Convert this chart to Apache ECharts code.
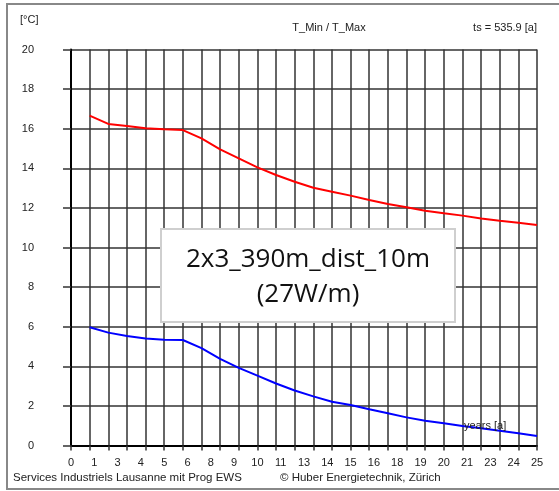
<!DOCTYPE html>
<html>
<head>
<meta charset="utf-8">
<script src="https://cdn.jsdelivr.net/npm/echarts@6/dist/echarts.min.js"></script>
<style>html,body{margin:0;padding:0;background:#fff;}#c{width:559px;height:491px;}</style>
</head>
<body>
<div id="c"></div>
<script>
const years = [1,2,3,4,5,6,7,8,9,10,11,12,13,14,15,16,17,18,19,20,21,22,23,24,25];
const tMax = [16.66,16.24,16.14,16.02,15.97,15.93,15.51,14.96,14.50,14.05,13.66,13.32,13.02,12.82,12.62,12.40,12.20,12.03,11.86,11.73,11.61,11.47,11.35,11.25,11.14];
const tMin = [5.97,5.70,5.53,5.40,5.34,5.33,4.92,4.38,3.92,3.53,3.13,2.78,2.48,2.21,2.05,1.83,1.63,1.42,1.25,1.12,0.98,0.87,0.75,0.62,0.48];
const unitLabel = '[°C]';
const titleText = 'T_Min / T_Max';
const tsText = 'ts = 535.9 [a]';
const xName = 'years [a]';
const footerLeft = 'Services Industriels Lausanne mit Prog EWS';
const footerRight = '© Huber Energietechnik, Zürich';
const boxLines = ['2x3_390m_dist_10m', '(27W/m)'];

const small = '11px "Liberation Sans", Arial, sans-serif';
const footFont = '11.5px "Liberation Sans", Arial, sans-serif';
const gridColor = '#333';

const chart = echarts.init(document.getElementById('c'), null, {renderer: 'canvas'});
chart.setOption({
  animation: false,
  backgroundColor: '#fff',
  grid: {left: 71, right: 22, top: 49.5, bottom: 45.5},
  xAxis: [{
    type: 'value', min: 0, max: 25, interval: 1,
    axisLine: {show: true, onZero: false, lineStyle: {color: '#000', width: 2}},
    axisTick: {show: true, inside: false, length: 5, lineStyle: {color: gridColor, width: 1.5}},
    axisLabel: {show: false},
    splitLine: {show: true, lineStyle: {color: gridColor, width: 1.5}}
  }, {
    type: 'value', min: 0, max: 25, interval: 1.25, position: 'bottom',
    axisLine: {show: false}, axisTick: {show: false}, splitLine: {show: false},
    axisLabel: {show: true, margin: 12, color: '#222', fontSize: 11, fontFamily: '"Liberation Sans", Arial, sans-serif',
      formatter: v => String(Math.round(v))}
  }],
  yAxis: {
    type: 'value', min: 0, max: 20, interval: 2,
    axisLine: {show: true, lineStyle: {color: '#000', width: 2}},
    axisTick: {show: true, inside: false, length: 8, lineStyle: {color: gridColor, width: 1.5}},
    axisLabel: {show: true, margin: 37, color: '#222', fontSize: 11, fontFamily: '"Liberation Sans", Arial, sans-serif'},
    splitLine: {show: true, lineStyle: {color: gridColor, width: 1.5}}
  },
  series: [{
    type: 'line', xAxisIndex: 0, data: years.map((y, i) => [y, tMax[i]]),
    showSymbol: false, lineStyle: {color: '#ff0000', width: 2}, z: 5
  }, {
    type: 'line', xAxisIndex: 0, data: years.map((y, i) => [y, tMin[i]]),
    showSymbol: false, lineStyle: {color: '#0000ff', width: 2}, z: 5
  }],
  graphic: [
    {type: 'rect', shape: {x: 7, y: 4, width: 560, height: 485}, style: {fill: 'none', stroke: '#888', lineWidth: 2}, z: 100},
    {type: 'text', style: {text: unitLabel, x: 20, y: 20, verticalAlign: 'middle', font: small, fill: '#222'}, z: 100},
    {type: 'text', style: {text: titleText, x: 329, y: 28, align: 'center', verticalAlign: 'middle', font: small, fill: '#222'}, z: 100},
    {type: 'text', style: {text: tsText, x: 537, y: 28, align: 'right', verticalAlign: 'middle', font: small, fill: '#222'}, z: 100},
    {type: 'text', style: {text: xName, x: 464, y: 426, verticalAlign: 'middle', font: small, fill: '#222'}, z: 100},
    {type: 'text', style: {text: footerLeft, x: 13, y: 478, verticalAlign: 'middle', font: footFont, fill: '#222'}, z: 100},
    {type: 'text', style: {text: footerRight, x: 280, y: 478, verticalAlign: 'middle', font: footFont, fill: '#222'}, z: 100},
    {type: 'rect', shape: {x: 161, y: 229, width: 294, height: 93}, style: {fill: '#fff', stroke: '#cfcfcf', lineWidth: 2}, z: 100},
    {type: 'text', style: {text: boxLines[0], x: 308, y: 260, align: 'center', verticalAlign: 'middle', font: '26px "Open Sans", sans-serif', fill: '#111'}, z: 101},
    {type: 'text', style: {text: boxLines[1], x: 308, y: 295, align: 'center', verticalAlign: 'middle', font: '26px "Open Sans", sans-serif', fill: '#111'}, z: 101}
  ]
});
</script>
</body>
</html>
